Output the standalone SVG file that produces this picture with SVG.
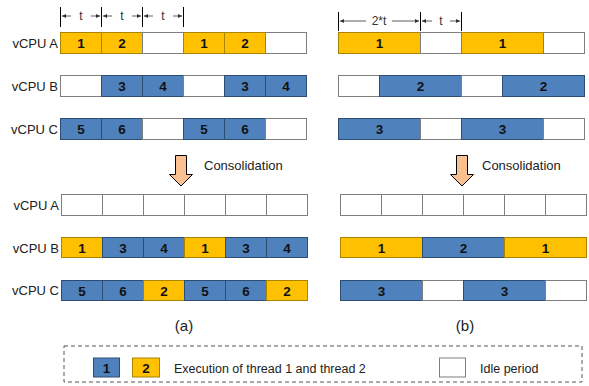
<svg xmlns="http://www.w3.org/2000/svg" width="589" height="386" viewBox="0 0 589 386">
<style>
text{font-family:"Liberation Sans",Arial,sans-serif;}
.lbl{font-size:13px;fill:#222;text-anchor:end;}
.num{font-size:13.5px;font-weight:bold;fill:#111;text-anchor:middle;}
.y{fill:#FFC000;stroke:#A88400;stroke-width:1;}
.b{fill:#4F81BD;stroke:#2E4D73;stroke-width:1;}
.w{fill:#fff;stroke:#7F7F7F;stroke-width:1;}
.tick{stroke:#000;stroke-width:1;}
.dim{stroke:#333;stroke-width:0.8;fill:none;}
.tl{font-size:12px;fill:#333;text-anchor:middle;}
.cap{font-size:13px;fill:#222;}
.sub{font-size:15px;fill:#222;text-anchor:middle;}
.leg{font-size:12.5px;fill:#222;}
.arr{fill:#FAC090;stroke:#000;stroke-width:1;}
</style>
<defs>
<marker id="ah" viewBox="0 0 6 6" refX="6" refY="3" markerWidth="5" markerHeight="5" orient="auto-start-reverse">
<path d="M0,0 L6,3 L0,6 z" fill="#333"/>
</marker>
</defs>

<!-- time markers left -->
<g id="timing-a">
<line class="tick" x1="60.5" y1="7" x2="60.5" y2="27"/>
<line class="tick" x1="101.5" y1="7" x2="101.5" y2="27"/>
<line class="tick" x1="142.5" y1="7" x2="142.5" y2="27"/>
<line class="tick" x1="183.5" y1="7" x2="183.5" y2="27"/>
<line class="dim" x1="71" y1="16" x2="62" y2="16" marker-end="url(#ah)"/>
<line class="dim" x1="91" y1="16" x2="100" y2="16" marker-end="url(#ah)"/>
<text class="tl" x="81" y="20">t</text>
<line class="dim" x1="112" y1="16" x2="103" y2="16" marker-end="url(#ah)"/>
<line class="dim" x1="132" y1="16" x2="141" y2="16" marker-end="url(#ah)"/>
<text class="tl" x="122" y="20">t</text>
<line class="dim" x1="153" y1="16" x2="144" y2="16" marker-end="url(#ah)"/>
<line class="dim" x1="173" y1="16" x2="182" y2="16" marker-end="url(#ah)"/>
<text class="tl" x="163" y="20">t</text>
</g>

<!-- time markers right -->
<g id="timing-b">
<line class="tick" x1="338.5" y1="12" x2="338.5" y2="31"/>
<line class="tick" x1="420.5" y1="12" x2="420.5" y2="31"/>
<line class="tick" x1="461.5" y1="12" x2="461.5" y2="31"/>
<line class="dim" x1="366" y1="21" x2="340" y2="21" marker-end="url(#ah)"/>
<line class="dim" x1="392" y1="21" x2="419" y2="21" marker-end="url(#ah)"/>
<text class="tl" x="379" y="25">2*t</text>
<line class="dim" x1="432" y1="21" x2="422" y2="21" marker-end="url(#ah)"/>
<line class="dim" x1="450" y1="21" x2="460" y2="21" marker-end="url(#ah)"/>
<text class="tl" x="441" y="25">t</text>
</g>

<!-- (a) top -->
<g id="a-top-A">
<text class="lbl" x="58" y="47.5">vCPU A</text>
<rect class="y" x="60.5" y="32.5" width="41" height="21"/><text class="num" x="81" y="48">1</text>
<rect class="y" x="101.5" y="32.5" width="41" height="21"/><text class="num" x="122" y="48">2</text>
<rect class="w" x="142.5" y="32.5" width="41" height="21"/>
<rect class="y" x="183.5" y="32.5" width="41" height="21"/><text class="num" x="204" y="48">1</text>
<rect class="y" x="224.5" y="32.5" width="41" height="21"/><text class="num" x="245" y="48">2</text>
<rect class="w" x="265.5" y="32.5" width="41" height="21"/>
</g>
<g id="a-top-B">
<text class="lbl" x="58" y="90.5">vCPU B</text>
<rect class="w" x="60.5" y="75.5" width="41" height="21"/>
<rect class="b" x="101.5" y="75.5" width="41" height="21"/><text class="num" x="122" y="91">3</text>
<rect class="b" x="142.5" y="75.5" width="41" height="21"/><text class="num" x="163" y="91">4</text>
<rect class="w" x="183.5" y="75.5" width="41" height="21"/>
<rect class="b" x="224.5" y="75.5" width="41" height="21"/><text class="num" x="245" y="91">3</text>
<rect class="b" x="265.5" y="75.5" width="41" height="21"/><text class="num" x="286" y="91">4</text>
</g>
<g id="a-top-C">
<text class="lbl" x="58" y="133.5">vCPU C</text>
<rect class="b" x="60.5" y="118.5" width="41" height="21"/><text class="num" x="81" y="134">5</text>
<rect class="b" x="101.5" y="118.5" width="41" height="21"/><text class="num" x="122" y="134">6</text>
<rect class="w" x="142.5" y="118.5" width="41" height="21"/>
<rect class="b" x="183.5" y="118.5" width="41" height="21"/><text class="num" x="204" y="134">5</text>
<rect class="b" x="224.5" y="118.5" width="41" height="21"/><text class="num" x="245" y="134">6</text>
<rect class="w" x="265.5" y="118.5" width="41" height="21"/>
</g>

<!-- (b) top -->
<g id="b-top-A">
<rect class="y" x="338.5" y="32.5" width="82" height="21"/><text class="num" x="379.5" y="48">1</text>
<rect class="w" x="420.5" y="32.5" width="41" height="21"/>
<rect class="y" x="461.5" y="32.5" width="82" height="21"/><text class="num" x="502.5" y="48">1</text>
<rect class="w" x="543.5" y="32.5" width="41" height="21"/>
</g>
<g id="b-top-B">
<rect class="w" x="338.5" y="75.5" width="41" height="21"/>
<rect class="b" x="379.5" y="75.5" width="82" height="21"/><text class="num" x="420.5" y="91">2</text>
<rect class="w" x="461.5" y="75.5" width="41" height="21"/>
<rect class="b" x="502.5" y="75.5" width="82" height="21"/><text class="num" x="543.5" y="91">2</text>
</g>
<g id="b-top-C">
<rect class="b" x="338.5" y="118.5" width="82" height="21"/><text class="num" x="379.5" y="134">3</text>
<rect class="w" x="420.5" y="118.5" width="41" height="21"/>
<rect class="b" x="461.5" y="118.5" width="82" height="21"/><text class="num" x="502.5" y="134">3</text>
<rect class="w" x="543.5" y="118.5" width="41" height="21"/>
</g>

<!-- consolidation arrows -->
<g id="consolidation-a">
<path class="arr" d="M175.5,155.5 H186.5 V174.5 H192.5 L181,186 L169.5,174.5 H175.5 Z"/>
<text class="cap" x="204" y="169.5">Consolidation</text>
</g>
<g id="consolidation-b">
<path class="arr" d="M456.5,155.5 H467.5 V174.5 H473.5 L462,186 L450.5,174.5 H456.5 Z"/>
<text class="cap" x="482" y="169.5">Consolidation</text>
</g>

<!-- (a) bottom -->
<g id="a-bot-A">
<text class="lbl" x="59" y="209.5">vCPU A</text>
<rect class="w" x="61.5" y="194.5" width="41" height="21"/>
<rect class="w" x="102.5" y="194.5" width="41" height="21"/>
<rect class="w" x="143.5" y="194.5" width="41" height="21"/>
<rect class="w" x="184.5" y="194.5" width="41" height="21"/>
<rect class="w" x="225.5" y="194.5" width="41" height="21"/>
<rect class="w" x="266.5" y="194.5" width="41" height="21"/>
</g>
<g id="a-bot-B">
<text class="lbl" x="59" y="252.5">vCPU B</text>
<rect class="y" x="61.5" y="237.5" width="41" height="20"/><text class="num" x="82" y="252.5">1</text>
<rect class="b" x="102.5" y="237.5" width="41" height="20"/><text class="num" x="123" y="252.5">3</text>
<rect class="b" x="143.5" y="237.5" width="41" height="20"/><text class="num" x="164" y="252.5">4</text>
<rect class="y" x="184.5" y="237.5" width="41" height="20"/><text class="num" x="205" y="252.5">1</text>
<rect class="b" x="225.5" y="237.5" width="41" height="20"/><text class="num" x="246" y="252.5">3</text>
<rect class="b" x="266.5" y="237.5" width="41" height="20"/><text class="num" x="287" y="252.5">4</text>
</g>
<g id="a-bot-C">
<text class="lbl" x="59" y="295">vCPU C</text>
<rect class="b" x="61.5" y="280.5" width="41" height="20"/><text class="num" x="82" y="295.5">5</text>
<rect class="b" x="102.5" y="280.5" width="41" height="20"/><text class="num" x="123" y="295.5">6</text>
<rect class="y" x="143.5" y="280.5" width="41" height="20"/><text class="num" x="164" y="295.5">2</text>
<rect class="b" x="184.5" y="280.5" width="41" height="20"/><text class="num" x="205" y="295.5">5</text>
<rect class="b" x="225.5" y="280.5" width="41" height="20"/><text class="num" x="246" y="295.5">6</text>
<rect class="y" x="266.5" y="280.5" width="41" height="20"/><text class="num" x="287" y="295.5">2</text>
</g>

<!-- (b) bottom -->
<g id="b-bot-A">
<rect class="w" x="340.5" y="194.5" width="41" height="21"/>
<rect class="w" x="381.5" y="194.5" width="41" height="21"/>
<rect class="w" x="422.5" y="194.5" width="41" height="21"/>
<rect class="w" x="463.5" y="194.5" width="41" height="21"/>
<rect class="w" x="504.5" y="194.5" width="41" height="21"/>
<rect class="w" x="545.5" y="194.5" width="41" height="21"/>
</g>
<g id="b-bot-B">
<rect class="y" x="340.5" y="237.5" width="82" height="20"/><text class="num" x="381.5" y="252.5">1</text>
<rect class="b" x="422.5" y="237.5" width="82" height="20"/><text class="num" x="463.5" y="252.5">2</text>
<rect class="y" x="504.5" y="237.5" width="82" height="20"/><text class="num" x="545.5" y="252.5">1</text>
</g>
<g id="b-bot-C">
<rect class="b" x="340.5" y="280.5" width="82" height="20"/><text class="num" x="381.5" y="295.5">3</text>
<rect class="w" x="422.5" y="280.5" width="41" height="20"/>
<rect class="b" x="463.5" y="280.5" width="82" height="20"/><text class="num" x="504.5" y="295.5">3</text>
<rect class="w" x="545.5" y="280.5" width="41" height="20"/>
</g>

<text class="sub" x="184" y="331">(a)</text>
<text class="sub" x="465" y="331">(b)</text>

<!-- legend -->
<g id="legend">
<rect x="64" y="346" width="518" height="36" fill="none" stroke="#555" stroke-width="1" stroke-dasharray="4,3"/>
<rect class="b" x="93.5" y="358" width="26" height="19"/><text class="num" x="106.5" y="372.5">1</text>
<rect class="y" x="132.5" y="358" width="27" height="19"/><text class="num" x="146" y="372.5">2</text>
<text class="leg" x="174" y="372.5">Execution of thread 1 and thread 2</text>
<rect class="w" x="439.5" y="358" width="26" height="19"/>
<text class="leg" x="480" y="372.5">Idle period</text>
</g>
</svg>
